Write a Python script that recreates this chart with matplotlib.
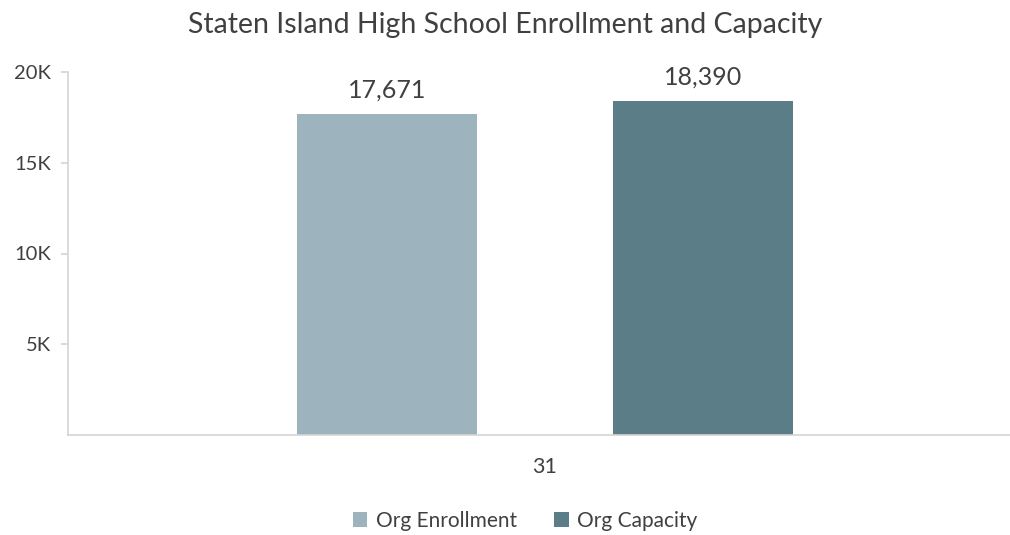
import matplotlib
matplotlib.use('Agg')
import matplotlib.pyplot as plt
from matplotlib.ticker import FuncFormatter

plt.rcParams['font.family'] = ['Lato', 'DejaVu Sans']

categories = ['31']
series_names = ['Org Enrollment', 'Org Capacity']
enrollment = [17671]
capacity = [18390]
colors = ['#9db3bd', '#5a7d87']
text_col = '#404040'
axis_col = '#d4d4d4'

fig = plt.figure(figsize=(10.10, 5.35), dpi=100)
ax = fig.add_axes([68 / 1010, 1 - 435 / 535, 1 - 68 / 1010, (435 - 72) / 535])

width = 0.36
offset = 0.316
x = range(len(categories))
b1 = ax.bar([i - offset for i in x], enrollment, width, color=colors[0], label=series_names[0])
b2 = ax.bar([i + offset for i in x], capacity, width, color=colors[1], label=series_names[1])

for bars in (b1, b2):
    for r in bars:
        ax.text(r.get_x() + r.get_width() / 2, r.get_height() + 700,
                '{:,}'.format(int(r.get_height())), ha='center', va='bottom',
                fontsize=18, color=text_col)

ax.set_xlim(-0.954, 0.93)
ax.set_ylim(0, 20000)
ax.set_yticks([5000, 10000, 15000, 20000])
ax.yaxis.set_major_formatter(FuncFormatter(lambda v, p: '%dK' % (v / 1000)))
ax.set_xticks(list(x))
ax.set_xticklabels(categories)

for s in ['top', 'right']:
    ax.spines[s].set_visible(False)
ax.spines['left'].set_color(axis_col)
ax.spines['bottom'].set_color(axis_col)
ax.spines['left'].set_linewidth(1.2)
ax.spines['bottom'].set_linewidth(1.2)
ax.tick_params(axis='y', colors=axis_col, labelcolor=text_col, labelsize=14.5, length=5, width=1.2, pad=7)
ax.tick_params(axis='x', length=0, labelcolor=text_col, labelsize=15.5, pad=16)

fig.suptitle('Staten Island High School Enrollment and Capacity', y=0.978, fontsize=20.5, color=text_col)

fig.legend(handles=[b1, b2], loc='center', bbox_to_anchor=(0.52, 0.027), ncol=2,
           frameon=False, fontsize=15, handlelength=0.7, handleheight=0.7,
           handletextpad=0.4, columnspacing=1.8, labelcolor=text_col)

fig.savefig('out.png', dpi=100)
